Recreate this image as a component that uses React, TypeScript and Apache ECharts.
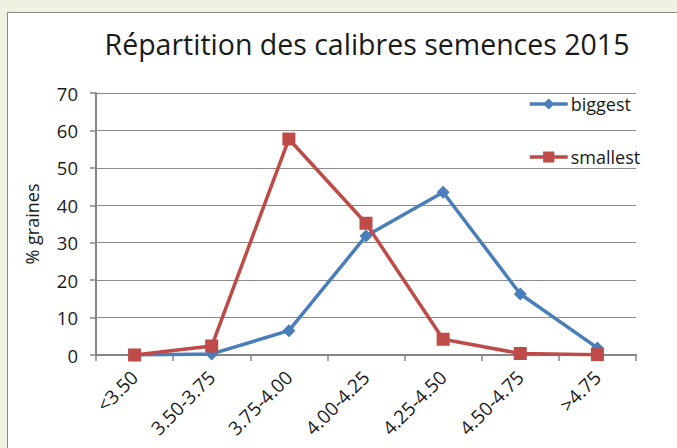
import React, { useEffect, useRef } from "react";
import * as echarts from "echarts";

const categories = ["<3.50", "3.50-3.75", "3.75-4.00", "4.00-4.25", "4.25-4.50", "4.50-4.75", ">4.75"];
const biggest = [0, 0.3, 6.5, 31.8, 43.5, 16.3, 1.9];
const smallest = [0, 2.4, 57.7, 35.2, 4.2, 0.4, 0.1];
const yTicks = [0, 10, 20, 30, 40, 50, 60, 70];

const FONT = "'Open Sans', 'Noto Sans', sans-serif";

export default function App() {
  const ref = useRef<HTMLDivElement>(null);
  useEffect(() => {
    const chart = echarts.init(ref.current!, null, { renderer: "svg" });
    chart.setOption({
      animation: false,
      backgroundColor: "transparent",
      title: {
        text: "Répartition des calibres semences 2015",
        left: 367,
        top: 29,
        textAlign: "center",
        padding: 0,
        textStyle: { fontFamily: FONT, fontSize: 28.5, fontWeight: "normal", color: "#1a1a1a" },
      },
      legend: {
        orient: "vertical",
        left: 528,
        top: 95,
        padding: 0,
        itemGap: 35,
        itemWidth: 38,
        itemHeight: 14,
        lineStyle: { width: 3.5 },
        textStyle: { fontFamily: FONT, fontSize: 18, color: "#1a1a1a", padding: [0, 0, 0, -2] },
        data: [
          { name: "biggest", lineStyle: { width: 3.5 } },
          { name: "smallest", lineStyle: { width: 3.5 } },
        ],
      },
      grid: { left: 96, right: 41, top: 93, bottom: 93, containLabel: false, show: false },
      xAxis: {
        type: "category",
        data: categories,
        boundaryGap: true,
        axisLine: { lineStyle: { color: "#868686", width: 2 } },
        axisTick: { show: true, length: 6, lineStyle: { color: "#868686", width: 1.5 } },
        axisLabel: { rotate: 45, fontFamily: FONT, fontSize: 19, color: "#1a1a1a", margin: 19, interval: 0 },
        splitLine: { show: false },
      },
      yAxis: {
        type: "value",
        min: yTicks[0],
        max: yTicks[yTicks.length - 1],
        interval: 10,
        name: "% graines",
        nameLocation: "middle",
        nameGap: 55,
        nameRotate: 90,
        nameTextStyle: { fontFamily: FONT, fontSize: 18, color: "#1a1a1a" },
        axisLine: { show: true, lineStyle: { color: "#868686", width: 2 } },
        axisTick: { show: true, length: 6, lineStyle: { color: "#868686", width: 1.5 } },
        axisLabel: { fontFamily: FONT, fontSize: 18.5, color: "#1a1a1a", margin: 18 },
        splitLine: { show: true, lineStyle: { color: "#8c8c8c", width: 1.2 } },
      },
      series: [
        {
          name: "biggest",
          type: "line",
          data: biggest,
          symbol: "diamond",
          symbolSize: 13,
          lineStyle: { color: "#4a7ebb", width: 3.5 },
          itemStyle: { color: "#4a7ebb" },
          z: 2,
        },
        {
          name: "smallest",
          type: "line",
          data: smallest,
          symbol: "rect",
          symbolSize: 13,
          lineStyle: { color: "#be4b48", width: 3.5 },
          itemStyle: { color: "#be4b48" },
          z: 3,
        },
      ],
    });
    return () => chart.dispose();
  }, []);
  return (
    <div style={{ position: "fixed", inset: 0, background: "#eff1e2" }}>
      <div
        style={{
          position: "absolute",
          left: 7,
          top: 12,
          width: 690,
          height: 460,
          border: "1.5px solid #8a8a8a",
          background: "#fff",
        }}
      />
      <div ref={ref} style={{ position: "absolute", left: 0, top: 0, width: 677, height: 448 }} />
    </div>
  );
}
